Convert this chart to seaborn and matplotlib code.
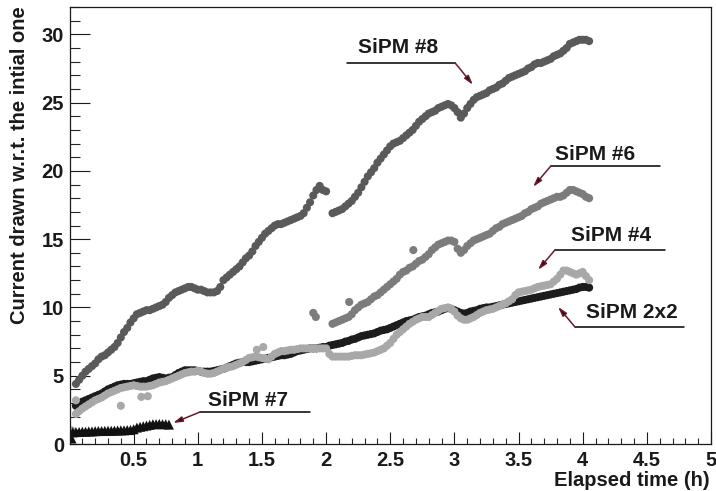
import numpy as np
import pandas as pd
import matplotlib
matplotlib.use("Agg")
import matplotlib.pyplot as plt
import seaborn as sns
from matplotlib.ticker import MultipleLocator, FuncFormatter

# logger time grids (h): main readings and the in-between readings
time_h = np.round(np.arange(0.05, 4.0501, 0.05), 3)
time_b = np.round(np.arange(0.075, 4.0251, 0.05), 3)
time_7 = np.round(np.arange(0.025, 0.7751, 0.025), 3)

sipm8 = [4.4, 5.0, 5.5, 5.9, 6.4, 6.7, 7.1, 7.8, 8.5, 9.2,
         9.6, 9.8, 9.9, 10.1, 10.4, 10.9, 11.2, 11.4, 11.5, 11.3,
         11.2, 11.1, 11.2, 12.0, 12.4, 12.8, 13.3, 13.8, 14.5, 15.1,
         15.6, 16.0, 16.1, 16.3, 16.5, 16.7, 17.3, 18.2, 18.9, 18.5,
         16.9, 17.1, 17.4, 17.8, 18.4, 19.2, 19.9, 20.6, 21.2, 21.8,
         22.1, 22.4, 22.8, 23.3, 23.8, 24.2, 24.4, 24.7, 24.9, 24.6,
         23.9, 24.6, 25.2, 25.5, 25.7, 26.0, 26.3, 26.6, 26.9, 27.1,
         27.3, 27.6, 27.9, 28.0, 28.2, 28.5, 28.8, 29.3, 29.5, 29.6,
         29.5]
sipm8_b = [4.7, 5.3, 5.7, 6.2, 6.5, 6.9, 7.4, 8.2, 8.9, 9.5,
           9.7, 9.8, 10.0, 10.2, 10.7, 11.1, 11.3, 11.5, 11.4, 11.3,
           11.1, 11.1, 11.5, 12.2, 12.6, 13.0, 13.6, 14.1, 14.8, 15.4,
           15.8, 16.1, 16.2, 16.4, 16.6, 16.9, 17.7, 18.6, 18.6, np.nan,
           17.0, 17.2, 17.6, 18.1, 18.8, 19.6, 20.2, 20.9, 21.5, 22.0,
           22.2, 22.6, 23.0, 23.6, 24.0, 24.3, 24.6, 24.8, 24.8, 24.3,
           24.2, 24.9, 25.4, 25.6, 25.9, 26.1, 26.4, 26.8, 27.0, 27.2,
           27.5, 27.8, 27.9, 28.1, 28.4, 28.6, 29.0, 29.4, 29.6, 29.6]

# SiPM #6 only logged from 2.05 h on
sipm6 = [8.8, 9.0, 9.2, 9.5, 10.0, 10.3, 10.6, 10.9, 11.3, 11.7,
         12.1, 12.6, 12.9, 13.2, 13.5, 13.9, 14.4, 14.7, 14.9, 14.8,
         14.0, 14.5, 14.9, 15.1, 15.3, 15.6, 15.9, 16.2, 16.4, 16.6,
         16.9, 17.2, 17.4, 17.7, 17.9, 18.1, 18.2, 18.6, 18.5, 18.3,
         18.0]
sipm6_b = [8.9, 9.1, 9.3, 9.8, 10.2, 10.4, 10.8, 11.1, 11.5, 11.9,
           12.4, 12.7, 13.0, 13.4, 13.7, 14.2, 14.6, 14.8, 14.9, 14.3,
           14.2, 14.7, 15.0, 15.2, 15.4, 15.8, 16.1, 16.3, 16.5, 16.7,
           17.0, 17.3, 17.6, 17.8, 18.0, 18.1, 18.4, 18.6, 18.4, 18.1]

sipm4 = [2.2, 2.6, 2.9, 3.2, 3.4, 3.7, 3.9, 4.1, 4.2, 4.3,
         4.2, 4.2, 4.3, 4.5, 4.6, 4.8, 5.0, 5.2, 5.3, 5.35,
         5.2, 5.15, 5.3, 5.5, 5.65, 5.8, 6.0, 6.3, 6.4, 6.3,
         6.2, 6.6, 6.8, 6.85, 6.9, 7.0, 7.0, 7.0, 7.0, 7.0,
         6.4, 6.4, 6.4, 6.45, 6.5, 6.55, 6.65, 6.8, 7.0, 7.4,
         8.0, 8.4, 8.8, 9.1, 9.3, 9.3, 9.6, 9.9, 10.0, 9.7,
         9.2, 9.1, 9.3, 9.6, 9.8, 9.9, 10.1, 10.3, 10.6, 11.1,
         11.2, 11.3, 11.5, 11.6, 11.7, 12.1, 12.7, 12.6, 12.4, 12.6,
         12.0]
sipm4_b = [2.4, 2.75, 3.05, 3.3, 3.55, 3.8, 4.0, 4.15, 4.25, 4.25,
           4.2, 4.25, 4.4, 4.55, 4.7, 4.9, 5.1, 5.25, 5.3, 5.3,
           5.15, 5.2, 5.4, 5.6, 5.7, 5.9, 6.15, 6.35, 6.35, 6.25,
           6.4, 6.7, 6.8, 6.9, 6.95, 7.0, 7.0, 7.0, 7.0, 6.6,
           6.4, 6.4, 6.4, 6.5, 6.5, 6.6, 6.7, 6.9, 7.2, 7.7,
           8.2, 8.6, 8.95, 9.2, 9.3, 9.45, 9.75, 9.95, 9.9, 9.4,
           9.1, 9.2, 9.45, 9.7, 9.85, 10.0, 10.2, 10.45, 10.9, 11.15,
           11.25, 11.4, 11.55, 11.65, 11.9, 12.4, 12.7, 12.5, 12.5, 12.3]

sipm2x2 = [2.8, 3.1, 3.3, 3.5, 3.7, 4.0, 4.2, 4.35, 4.4, 4.45,
           4.55, 4.6, 4.8, 4.9, 4.8, 4.9, 5.2, 5.4, 5.4, 5.35,
           5.3, 5.3, 5.4, 5.5, 5.7, 5.9, 6.0, 6.0, 6.1, 6.2,
           6.3, 6.4, 6.5, 6.55, 6.7, 6.85, 6.95, 7.0, 7.05, 7.1,
           7.25, 7.35, 7.5, 7.65, 7.8, 7.95, 8.05, 8.2, 8.35, 8.5,
           8.7, 8.9, 9.05, 9.2, 9.35, 9.5, 9.65, 9.8, 9.95, 9.8,
           9.6, 9.6, 9.75, 9.9, 10.0, 10.05, 10.15, 10.25, 10.35, 10.45,
           10.55, 10.65, 10.75, 10.85, 10.95, 11.05, 11.15, 11.25, 11.35, 11.5,
           11.45]
sipm2x2_b = [2.95, 3.2, 3.4, 3.6, 3.85, 4.1, 4.3, 4.4, 4.4, 4.5,
             4.6, 4.7, 4.85, 4.85, 4.85, 5.05, 5.3, 5.4, 5.4, 5.3,
             5.3, 5.35, 5.45, 5.6, 5.8, 5.95, 6.0, 6.05, 6.15, 6.25,
             6.35, 6.45, 6.5, 6.6, 6.8, 6.9, 7.0, 7.0, 7.1, 7.2,
             7.3, 7.4, 7.55, 7.7, 7.9, 8.0, 8.1, 8.3, 8.4, 8.6,
             8.8, 9.0, 9.1, 9.3, 9.4, 9.6, 9.7, 9.9, 9.9, 9.7,
             9.55, 9.7, 9.8, 9.95, 10.0, 10.1, 10.2, 10.3, 10.4, 10.5,
             10.6, 10.7, 10.8, 10.9, 11.0, 11.1, 11.2, 11.3, 11.45, 11.5]

sipm7 = [0.85, 0.87, 0.88, 0.9, 0.9, 0.92, 0.92, 0.94, 0.95, 0.95,
         0.96, 0.97, 0.97, 0.98, 0.99, 1.0, 1.0, 1.02, 1.03, 1.08,
         1.2, 1.26, 1.3, 1.35, 1.4, 1.45, 1.45, 1.47, 1.45, 1.45,
         1.42]

# stray readings
extra6_t = [1.90, 1.92, 2.18, 2.68]
extra6_y = [9.6, 9.3, 10.4, 14.2]
extra4_t = [0.016, 0.05, 0.40, 0.56, 0.61, 1.46, 1.51]
extra4_y = [1.0, 3.2, 2.8, 3.45, 3.5, 6.9, 7.1]
extra7_t = [0.016]
extra7_y = [0.4]

sensors = ["SiPM #8", "SiPM #6", "SiPM 2x2", "SiPM #4", "SiPM #7"]
colors = {"SiPM #8": "#5a5a5a", "SiPM #6": "#7c7c7c", "SiPM 2x2": "#1c1c1c",
          "SiPM #4": "#a8a8a8", "SiPM #7": "#111111"}
markers = {"SiPM #8": "o", "SiPM #6": "o", "SiPM 2x2": "o", "SiPM #4": "o", "SiPM #7": "^"}
msizes = {"SiPM #8": 34, "SiPM #6": 34, "SiPM 2x2": 34, "SiPM #4": 34, "SiPM #7": 52}

# label text, text centre, underline (x0, x1, y), arrow tip
labels = ["SiPM #8", "SiPM #6", "SiPM #4", "SiPM 2x2", "SiPM #7"]
label_xy = [(2.56, 29.0), (4.10, 21.2), (4.22, 15.3), (4.38, 9.63), (1.395, 3.19)]
line_x0 = [2.163, 3.753, 3.784, 3.940, 1.017]
line_x1 = [3.005, 4.603, 4.641, 4.790, 1.874]
line_y = [27.91, 20.37, 14.21, 8.57, 2.34]
corner_x = [3.005, 3.753, 3.784, 3.940, 1.017]
tip_xy = [(3.145, 26.3), (3.613, 18.83), (3.652, 12.75), (3.808, 10.04), (0.807, 1.54)]

frames = [
    pd.DataFrame({"t": time_h, "current": sipm8, "sensor": "SiPM #8"}),
    pd.DataFrame({"t": time_b, "current": sipm8_b, "sensor": "SiPM #8"}),
    pd.DataFrame({"t": time_h[40:], "current": sipm6, "sensor": "SiPM #6"}),
    pd.DataFrame({"t": time_b[40:], "current": sipm6_b, "sensor": "SiPM #6"}),
    pd.DataFrame({"t": extra6_t, "current": extra6_y, "sensor": "SiPM #6"}),
    pd.DataFrame({"t": time_h, "current": sipm2x2, "sensor": "SiPM 2x2"}),
    pd.DataFrame({"t": time_b, "current": sipm2x2_b, "sensor": "SiPM 2x2"}),
    pd.DataFrame({"t": time_h, "current": sipm4, "sensor": "SiPM #4"}),
    pd.DataFrame({"t": time_b, "current": sipm4_b, "sensor": "SiPM #4"}),
    pd.DataFrame({"t": extra4_t, "current": extra4_y, "sensor": "SiPM #4"}),
    pd.DataFrame({"t": time_7, "current": sipm7, "sensor": "SiPM #7"}),
    pd.DataFrame({"t": extra7_t, "current": extra7_y, "sensor": "SiPM #7"}),
]
df = pd.concat(frames, ignore_index=True).dropna()

sns.set_style("ticks")
plt.rcParams["font.family"] = ["Liberation Sans", "DejaVu Sans"]
plt.rcParams["font.weight"] = "bold"
txt_col = "#1a1a1a"

fig = plt.figure(figsize=(7.16, 4.91), dpi=100)
ax = fig.add_axes([69.5 / 716, 1 - 444 / 491, 641.5 / 716, 437 / 491])

sns.scatterplot(data=df, x="t", y="current", hue="sensor", style="sensor", size="sensor",
                palette=colors, markers=markers, sizes=msizes,
                hue_order=sensors, style_order=sensors, size_order=sensors,
                linewidth=0, legend=False, ax=ax)

ax.set_xlim(0, 5)
ax.set_ylim(0, 32)
ax.xaxis.set_major_locator(MultipleLocator(0.5))
ax.xaxis.set_minor_locator(MultipleLocator(0.1))
ax.yaxis.set_major_locator(MultipleLocator(5))
ax.yaxis.set_minor_locator(MultipleLocator(1))
ax.xaxis.set_major_formatter(FuncFormatter(lambda v, p: "" if abs(v) < 1e-9 else "%g" % v))
ax.tick_params(axis="x", which="major", direction="in", length=9, width=0.8,
               labelsize=14.5, pad=5, colors=txt_col, top=False)
ax.tick_params(axis="x", which="minor", direction="in", length=4.5, width=0.8, top=False)
ax.tick_params(axis="y", which="major", direction="in", length=14.5, width=0.8,
               labelsize=14.5, pad=4, colors=txt_col, right=False)
ax.tick_params(axis="y", which="minor", direction="in", length=7.5, width=0.8, right=False)
for lab in ax.get_xticklabels() + ax.get_yticklabels():
    lab.set_fontweight("bold")
for sp in ax.spines.values():
    sp.set_visible(True)
    sp.set_linewidth(0.9)
    sp.set_color(txt_col)

ax.set_xlabel("")
ax.set_ylabel("")
fig.text(710 / 716, 1 - 481 / 491, "Elapsed time (h)", ha="right", va="center",
         fontsize=14.5, fontweight="bold", color=txt_col)
fig.text(19.5 / 716, 1 - 6 / 491, "Current drawn w.r.t. the intial one", ha="center", va="top",
         rotation=90, fontsize=14.5, fontweight="bold", color=txt_col)

for i, name in enumerate(labels):
    ax.text(label_xy[i][0], label_xy[i][1], name, ha="center", va="center",
            fontsize=15, fontweight="bold", color=txt_col)
    ax.plot([line_x0[i], line_x1[i]], [line_y[i], line_y[i]], color="black", lw=1.1)
    ax.annotate("", xy=tip_xy[i], xytext=(corner_x[i], line_y[i]),
                arrowprops=dict(arrowstyle="-|>,head_length=0.55,head_width=0.16",
                                color="black", lw=1.1, shrinkA=0, shrinkB=0,
                                fc="#2a0a10", ec="#6a1a2a"))

fig.savefig("out.png", dpi=100)
